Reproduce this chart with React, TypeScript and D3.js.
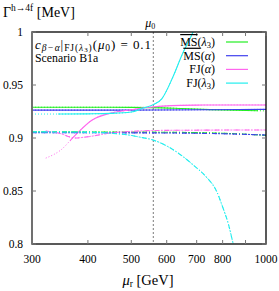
import React from "react";
import * as d3 from "d3";

// x ticks (GeV) and y ticks (MeV)
const xTicks = [300, 400, 500, 600, 700, 800, 900, 1000];
const xLabels = [300, 400, 500, 600, 700, 800, 1000];
const yTicks = [0.8, 0.85, 0.9, 0.95, 1];
const mu0 = 560;

// NLO curves (solid)
const msL3Mu = [300, 400, 500, 560, 650, 750, 850, 1000];
const msL3Nlo = [0.929, 0.929, 0.9289, 0.9287, 0.9278, 0.9268, 0.9262, 0.9256];
const msAMu = [300, 400, 560, 750, 1000];
const msANlo = [0.9263, 0.9263, 0.9264, 0.9267, 0.927];
const fjAMu = [322, 348, 375, 409, 451, 495, 543, 614, 700, 850, 1000];
const fjANlo = [0.881, 0.8887, 0.9028, 0.917, 0.9236, 0.9264, 0.9288, 0.9305, 0.931, 0.9312, 0.9312];
const fjL3Mu = [300, 350, 400, 450, 500, 530, 560, 585, 620, 650, 687, 710];
const fjL3Nlo = [0.9226, 0.9226, 0.9228, 0.9232, 0.9245, 0.928, 0.9315, 0.937, 0.958, 0.979, 1.0, 1.015];

// LO curves (dash-dotted)
const msL3LoMu = [300, 560, 800, 1000];
const msL3Lo = [0.9058, 0.9055, 0.9045, 0.9025];
const msALoMu = [300, 560, 800, 1000];
const msALo = [0.905, 0.9048, 0.904, 0.9028];
const fjALoMu = [322, 345, 375, 400, 450, 515, 600, 1000];
const fjALo = [0.9065, 0.9045, 0.9, 0.9012, 0.9048, 0.9065, 0.9072, 0.9076];
const fjL3LoMu = [300, 400, 450, 490, 520, 560, 620, 690, 740, 773, 800, 825, 845, 860];
const fjL3Lo = [0.9058, 0.9055, 0.9045, 0.903, 0.901, 0.898, 0.889, 0.874, 0.862, 0.851, 0.835, 0.818, 0.8, 0.788];

const green = "#22ee22";
const blue = "#4040ee";
const magenta = "#ff66ee";
const cyan = "#22eeee";

const series = [
  { mu: msL3Mu, v: msL3Nlo, color: green, lo: false, dotBelow: 0, dotAbove: 960 },
  { mu: msAMu, v: msANlo, color: blue, lo: false, dotBelow: 0, dotAbove: 2000 },
  { mu: fjAMu, v: fjANlo, color: magenta, lo: false, dotBelow: 365, dotAbove: 2000 },
  { mu: fjL3Mu, v: fjL3Nlo, color: cyan, lo: false, dotBelow: 343, dotAbove: 2000 },
  { mu: msL3LoMu, v: msL3Lo, color: green, lo: true, dotBelow: 0, dotAbove: 2000 },
  { mu: msALoMu, v: msALo, color: blue, lo: true, dotBelow: 0, dotAbove: 2000 },
  { mu: fjALoMu, v: fjALo, color: magenta, lo: true, dotBelow: 0, dotAbove: 2000 },
  { mu: fjL3LoMu, v: fjL3Lo, color: cyan, lo: true, dotBelow: 0, dotAbove: 2000 },
];

const legend = [
  { name: "MS", bar: true, arg: "λ", sub: "3", color: green },
  { name: "MS", bar: true, arg: "α", sub: "", color: blue },
  { name: "FJ", bar: false, arg: "α", sub: "", color: magenta },
  { name: "FJ", bar: false, arg: "λ", sub: "3", color: cyan },
];

const W = 279;
const H = 291;
const m = { top: 32, right: 13, bottom: 47, left: 32 };
const font = "'Liberation Serif', serif";

export default function App() {
  const x = d3.scaleLog().domain([300, 1000]).range([m.left, W - m.right]);
  const y = d3.scaleLinear().domain([0.8, 1]).range([H - m.bottom, m.top]);

  const line = d3
    .line<[number, number]>()
    .x((d) => x(d[0]))
    .y((d) => y(d[1]))
    .curve(d3.curveMonotoneX);

  const pathOf = (s: typeof series[number]) =>
    line(s.mu.map((u, i) => [u, s.v[i]] as [number, number])) || "";

  return (
    <svg width={W} height={H} style={{ position: "absolute", left: 0, top: 0 }} fontFamily={font}>
      <defs>
        <clipPath id="plot">
          <rect x={m.left} y={m.top} width={W - m.left - m.right} height={H - m.top - m.bottom} />
        </clipPath>
        {series.map((s, i) => (
          <clipPath id={`solid${i}`} key={i}>
            <rect x={x(Math.max(300, s.dotBelow))} y={m.top} width={x(Math.min(1000, s.dotAbove)) - x(Math.max(300, s.dotBelow))} height={H - m.top - m.bottom} />
          </clipPath>
        ))}
      </defs>

      {/* mu0 line */}
      <line x1={x(mu0)} x2={x(mu0)} y1={m.top} y2={H - m.bottom} stroke="#444" strokeWidth={0.7} strokeDasharray="2,2" />
      <text x={x(mu0) - 3} y={m.top - 5} fontSize={12} textAnchor="middle">
        <tspan fontStyle="italic">μ</tspan>
        <tspan fontSize={8} dy={2}>0</tspan>
      </text>

      <g clipPath="url(#plot)">
        {series.map((s, i) => {
          const d = pathOf(s);
          return (
            <g key={i}>
              <path d={d} fill="none" stroke={s.color} strokeWidth={1} strokeDasharray="1,2" />
              <g clipPath={`url(#solid${i})`}>
                <path d={d} fill="none" stroke={s.color} strokeWidth={1.1} strokeDasharray={s.lo ? "5,2,1,2" : undefined} />
              </g>
            </g>
          );
        })}
      </g>

      {/* frame */}
      <rect x={m.left} y={m.top} width={W - m.left - m.right} height={H - m.top - m.bottom} fill="none" stroke="#000" strokeWidth={1.3} />
      <line x1={m.left} x2={m.left} y1={m.top} y2={H - m.bottom} stroke="#777" strokeWidth={1.6} />

      {/* ticks */}
      {xTicks.map((t) => (
        <g key={t}>
          <line x1={x(t)} x2={x(t)} y1={H - m.bottom} y2={H - m.bottom - 4} stroke="#777" />
          <line x1={x(t)} x2={x(t)} y1={m.top} y2={m.top + 4} stroke="#777" />
        </g>
      ))}
      {xLabels.map((t) => (
        <text key={t} x={x(t)} y={H - m.bottom + 19} fontSize={11.5} textAnchor="middle">
          {t}
        </text>
      ))}
      {yTicks.map((t) => (
        <g key={t}>
          <line x1={m.left} x2={m.left + 4} y1={y(t)} y2={y(t)} stroke="#777" />
          <line x1={W - m.right} x2={W - m.right - 4} y1={y(t)} y2={y(t)} stroke="#777" />
          <text x={m.left - 9} y={y(t) + 4} fontSize={11.5} textAnchor="end">
            {t}
          </text>
        </g>
      ))}

      {/* axis titles */}
      <text x={3} y={17} fontSize={14}>
        Γ<tspan fontSize={9.5} dy={-6}>h→4f</tspan>
        <tspan dy={6}> [MeV]</tspan>
      </text>
      <text x={148} y={285} fontSize={14.5} textAnchor="middle">
        <tspan fontStyle="italic">μ</tspan>
        <tspan fontSize={9.5} dy={2}>r</tspan>
        <tspan dy={-2}> [GeV]</tspan>
      </text>

      {/* annotations */}
      <text x={35} y={49} fontSize={13} textLength={116} lengthAdjust="spacing">
        <tspan fontStyle="italic">c</tspan>
        <tspan fontSize={9.5} dy={2} fontStyle="italic">β−α</tspan>
        <tspan dy={-2}>|</tspan>
        <tspan fontSize={9.5} dy={2}>FJ(</tspan>
        <tspan fontSize={9.5} fontStyle="italic">λ</tspan>
        <tspan fontSize={7} dy={1}>3</tspan>
        <tspan fontSize={9.5} dy={-1}>)</tspan>
        <tspan dy={-2}>(</tspan>
        <tspan fontStyle="italic">μ</tspan>
        <tspan fontSize={9.5} dy={2}>0</tspan>
        <tspan dy={-2}>) = 0.1</tspan>
      </text>
      <text x={35} y={61.5} fontSize={11.8}>
        Scenario B1a
      </text>

      {/* legend */}
      {legend.map((l, i) => {
        const ly = 42 + i * 13.7;
        return (
          <g key={i}>
            <text x={215} y={ly + 4} fontSize={12} textAnchor="end">
              <tspan style={{ textDecoration: l.bar ? "overline" : "none" }}>{l.name}</tspan>
              <tspan>(</tspan>
              <tspan fontStyle="italic">{l.arg}</tspan>
              {l.sub ? <tspan fontSize={8.5} dy={2}>{l.sub}</tspan> : null}
              <tspan dy={l.sub ? -2 : 0}>)</tspan>
            </text>
            <line x1={226} x2={248} y1={ly} y2={ly} stroke={l.color} strokeWidth={1.2} />
          </g>
        );
      })}
    </svg>
  );
}
